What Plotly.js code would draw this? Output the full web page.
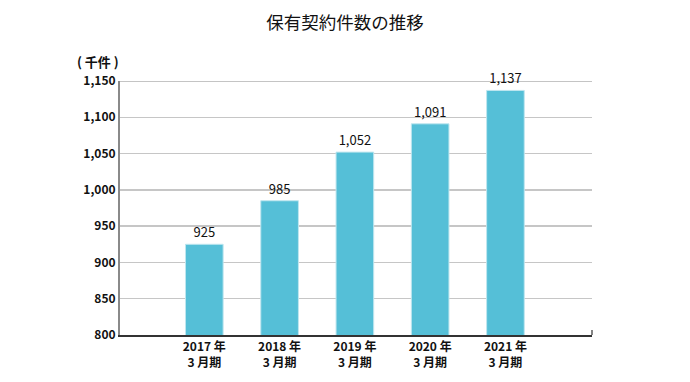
<!DOCTYPE html>
<html><head><meta charset="utf-8">
<script src="https://cdn.plot.ly/plotly-3.0.1.min.js"></script>
<style>html,body{margin:0;padding:0;background:#fff}#c{width:690px;height:382px}</style>
</head><body><div id="c"></div>
<script>
const categories = ["2017 年<br>3 月期","2018 年<br>3 月期","2019 年<br>3 月期","2020 年<br>3 月期","2021 年<br>3 月期"];
const values = [925, 985, 1052, 1091, 1137];
const labels = ["925","985","1,052","1,091","1,137"];
const yTicks = [800, 850, 900, 950, 1000, 1050, 1100, 1150];
const yTickText = ["800","850","900","950","1,000","1,050","1,100","1,150"];
const F = '"Noto Sans CJK JP", "Noto Sans", sans-serif';

const trace = {
  type: 'bar', x: categories, y: values, width: 0.5,
  marker: {color: '#55bfd7', line: {color: '#bfe6ef', width: 1}},
  text: labels, textposition: 'outside', cliponaxis: false,
  textfont: {family: F, size: 13, color: '#111'}, hoverinfo: 'none'
};
const layout = {
  width: 690, height: 382,
  margin: {l: 120, r: 98, t: 81, b: 47},
  paper_bgcolor: '#fff', plot_bgcolor: '#fff',
  showlegend: false,
  title: {text: '保有契約件数の推移', x: 0.5, xanchor: 'center', y: 0.94, yanchor: 'middle',
          font: {family: F, size: 17.5, color: '#111'}},
  xaxis: {type: 'category', range: [-1.12, 5.15], showgrid: false, zeroline: false,
          showline: true, linecolor: '#333', linewidth: 1.5, ticks: '',
          tickfont: {family: F, size: 12, color: '#111', weight: 'bold'}, fixedrange: true},
  yaxis: {range: [800, 1150], tickvals: yTicks, ticktext: yTickText,
          showgrid: true, gridcolor: '#c6c6c6', gridwidth: 1.5, zeroline: false,
          showline: true, linecolor: '#8a8a8a', linewidth: 2, ticks: '', ticklen: 0,
          tickfont: {family: F, size: 12, color: '#111', weight: 'bold'}, fixedrange: true},
  shapes: [
    {type: 'line', xref: 'paper', yref: 'y', x0: 0, x1: 1, y0: 1150, y1: 1150,
     line: {color: '#8a8a8a', width: 1.2}, layer: 'below'},
    {type: 'line', xref: 'paper', yref: 'paper', x0: 1, x1: 1, y0: 0, y1: 0.02,
     line: {color: '#333', width: 1.2}}
  ],
  annotations: [
    {text: '( 千件 )', xref: 'paper', yref: 'paper', x: -0.047, y: 1.077, xanchor: 'center', yanchor: 'middle',
     showarrow: false, font: {family: F, size: 13, color: '#111', weight: 'bold'}}
  ],
  bargap: 0.5
};
Plotly.newPlot('c', [trace], layout, {displayModeBar: false, staticPlot: true});
</script></body></html>
